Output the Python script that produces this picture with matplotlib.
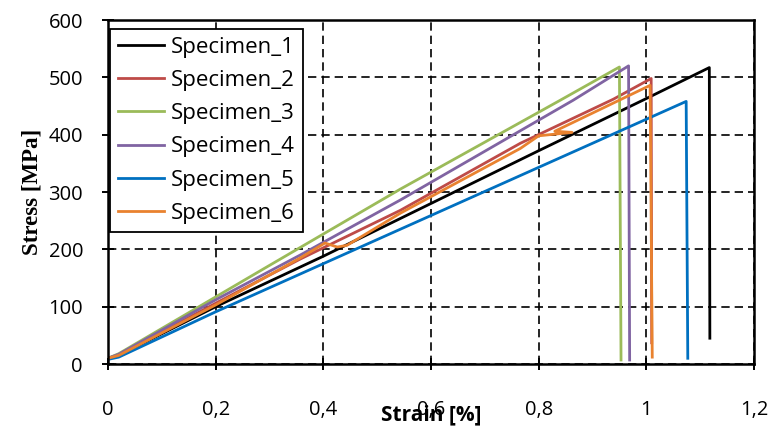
import matplotlib
matplotlib.use("Agg")
import matplotlib.pyplot as plt

# --- data ---
strain_1 = [0, 0.02, 0.2, 0.4, 0.6, 0.8, 1.0, 1.117, 1.118]
stress_1 = [10, 15, 100, 188, 280, 372, 463, 517, 45]

strain_2 = [0, 0.02, 0.2, 0.357, 0.543, 0.766, 0.939, 1.009, 1.010]
stress_2 = [10, 16, 106, 183, 268, 385, 462, 498, 37]

strain_3 = [0, 0.02, 0.3, 0.543, 0.84, 0.950, 0.953]
stress_3 = [10, 18, 172, 305, 460, 518, 7]

strain_4 = [0, 0.02, 0.2, 0.357, 0.543, 0.864, 0.967, 0.969]
stress_4 = [10, 17, 112, 190, 286, 460, 520, 7]

strain_5 = [0, 0.02, 0.2, 0.4, 0.6, 0.8, 1.074, 1.077]
stress_5 = [8, 12, 91, 175, 259, 343, 458, 10]

strain_6 = [0, 0.02, 0.2, 0.357, 0.403, 0.426, 0.444, 0.543, 0.766, 0.80, 0.862, 0.83, 1.007, 1.011]
stress_6 = [10, 15, 103, 185, 211, 204, 207, 263, 376, 398, 404, 406, 486, 12]

labels = ["Specimen_1", "Specimen_2", "Specimen_3", "Specimen_4", "Specimen_5", "Specimen_6"]
colors = ["#000000", "#BE4B48", "#9BBB59", "#8064A2", "#0070C0", "#E9822F"]

x_ticks = [0, 0.2, 0.4, 0.6, 0.8, 1.0, 1.2]
x_tick_labels = ["0", "0,2", "0,4", "0,6", "0,8", "1", "1,2"]
y_ticks = [0, 100, 200, 300, 400, 500, 600]

curves = [(strain_1, stress_1), (strain_2, stress_2), (strain_3, stress_3),
          (strain_4, stress_4), (strain_5, stress_5), (strain_6, stress_6)]

plt.rcParams['font.family'] = ['Open Sans', 'DejaVu Sans']

fig = plt.figure(figsize=(7.72, 4.30), dpi=100)
ax = fig.add_axes([108 / 772, 66 / 430, 646 / 772, 344 / 430])

for (x, y), lab, c in zip(curves, labels, colors):
    ax.plot(x, y, color=c, linewidth=2.0, label=lab)

ax.set_xlim(0, 1.2)
ax.set_ylim(0, 600)
ax.set_xticks(x_ticks)
ax.set_xticklabels(x_tick_labels)
ax.set_yticks(y_ticks)

ax.grid(True, color='black', linestyle=(0, (5, 3)), linewidth=1.2)
ax.set_axisbelow(True)
for s in ax.spines.values():
    s.set_linewidth(1.8)
    s.set_color('black')

ax.tick_params(axis='both', direction='inout', length=8, width=1.4, labelsize=14.5)
ax.tick_params(axis='x', pad=22)
ax.tick_params(axis='y', pad=14)

# the x label sits over the tick labels, as in the original Excel chart
ax.set_xlabel("Strain [%]", fontsize=15, fontweight='bold', labelpad=-11)
ax.set_ylabel("Stress [MPa]", fontsize=16.5, fontweight='bold',
              family=['Liberation Serif', 'DejaVu Serif'], labelpad=4)

leg = ax.legend(loc='upper left', bbox_to_anchor=(0.003, 0.974), borderaxespad=0,
                fontsize=16, frameon=True, fancybox=False, framealpha=1,
                edgecolor='black', handlelength=2.1, handletextpad=0.3,
                labelspacing=0.55, borderpad=0.35)
leg.get_frame().set_linewidth(1.3)

fig.savefig("out.png", dpi=100)
